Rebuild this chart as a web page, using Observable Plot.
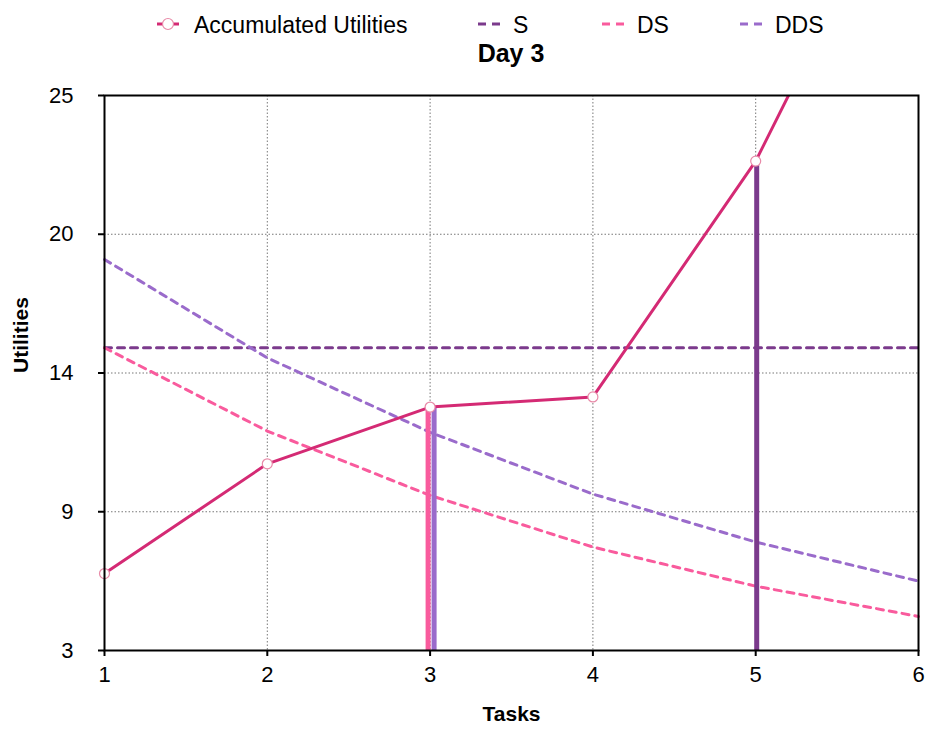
<!DOCTYPE html>
<html><head><meta charset="utf-8">
<script src="https://cdn.jsdelivr.net/npm/d3@7"></script>
<script src="https://cdn.jsdelivr.net/npm/@observablehq/plot@0.6"></script>
<style>
body{margin:0;background:#fff;font-family:"Liberation Sans",Arial,Helvetica,sans-serif;color:#000}
#wrap{position:relative;width:930px;height:733px}
.leg{position:absolute;top:12px;font-size:23px;line-height:26px;white-space:nowrap}
.sym{position:absolute;top:12px}
#title{position:absolute;top:38px;left:104px;width:814px;text-align:center;font-weight:bold;font-size:25px;line-height:30px}
</style></head>
<body><div id="wrap"></div>
<script>
const tasks = [1, 2, 3, 4, 5, 6];
const accumulated = [6.05, 10.4, 12.65, 13.05, 22.4, 35.3];
const sValues = [15, 15, 15, 15, 15, 15];
const dsValues = [15.0, 11.7, 9.15, 7.1, 5.55, 4.35];
const ddsValues = [18.5, 14.6, 11.65, 9.2, 7.3, 5.75];
const stopTasks = [3, 3, 5];
const stopSeries = ["DS", "DDS", "S"];
const stopValues = [12.65, 12.65, 22.4];
const xTicks = [1, 2, 3, 4, 5, 6];
const yTicks = [3, 8.5, 14, 19.5, 25];
const yTickLabels = ["3", "9", "14", "20", "25"];
const seriesNames = ["Accumulated Utilities", "S", "DS", "DDS"];
const colors = {"Accumulated Utilities": "#d42a74", S: "#7b3a8c", DS: "#f95b9d", DDS: "#9a6bcb"};

const rows = (vals) => tasks.map((t, i) => ({t, v: vals[i]}));
const stops = stopTasks.map((t, i) => ({t, s: stopSeries[i], v: stopValues[i]}));

const dash = {strokeWidth: 3, strokeDasharray: "7,6"};
const chart = Plot.plot({
  width: 930, height: 733,
  marginLeft: 104, marginRight: 12, marginTop: 95, marginBottom: 83,
  style: {fontFamily: "Liberation Sans, Arial, sans-serif", fontSize: "22px", color: "#000", background: "transparent"},
  x: {domain: [1, 6], label: null},
  y: {domain: [3, 25], label: null},
  marks: [
    Plot.ruleX(xTicks.slice(1, -1), {stroke: "#777", strokeWidth: 1, strokeDasharray: "1.5,2"}),
    Plot.ruleY(yTicks.slice(1, -1), {stroke: "#777", strokeWidth: 1, strokeDasharray: "1.5,2"}),
    Plot.line(rows(sValues), {x: "t", y: "v", stroke: colors.S, ...dash}),
    Plot.line(rows(dsValues), {x: "t", y: "v", stroke: colors.DS, ...dash}),
    Plot.line(rows(ddsValues), {x: "t", y: "v", stroke: colors.DDS, ...dash}),
    Plot.ruleX(stops.filter(d => d.s === "DS"), {x: "t", y1: 3, y2: "v", stroke: colors.DS, strokeWidth: 5, dx: -2}),
    Plot.ruleX(stops.filter(d => d.s === "DDS"), {x: "t", y1: 3, y2: "v", stroke: colors.DDS, strokeWidth: 5, dx: 4}),
    Plot.ruleX(stops.filter(d => d.s === "S"), {x: "t", y1: 3, y2: "v", stroke: colors.S, strokeWidth: 5, dx: 1}),
    Plot.line(rows(accumulated), {x: "t", y: "v", stroke: colors["Accumulated Utilities"], strokeWidth: 3, clip: true}),
    Plot.dot(rows(accumulated).filter(d => d.v <= 25), {x: "t", y: "v", r: 5, fill: "white", stroke: "#e88aa8", strokeWidth: 1.2}),
    Plot.frame({stroke: "#000", strokeWidth: 2}),
    Plot.axisX({ticks: xTicks, tickSize: 6, strokeWidth: 2, tickFormat: () => ""}),
    Plot.axisY({ticks: yTicks, tickSize: 6, strokeWidth: 2, tickFormat: () => ""}),
    Plot.text(xTicks, {x: d => d, frameAnchor: "bottom", dy: 31, text: d => String(d), fontSize: 22, fill: "#000"}),
    Plot.text(yTicks, {y: d => d, frameAnchor: "left", dx: -31, textAnchor: "end", text: (d, i) => yTickLabels[i], fontSize: 22, fill: "#000"}),
    Plot.text(["Tasks"], {frameAnchor: "bottom", dy: 70, fontWeight: "bold", fontSize: 21, text: d => d}),
    Plot.text(["Utilities"], {frameAnchor: "left", dx: -83, rotate: -90, fontWeight: "bold", fontSize: 21, text: d => d})
  ]
});
const wrap = document.getElementById("wrap");
wrap.appendChild(chart);
chart.style.position = "absolute"; chart.style.left = "0"; chart.style.top = "0";

// Legend (HTML overlay above the plot area)
const legendX = {"Accumulated Utilities": [156, 194], S: [477, 513], DS: [601, 637], DDS: [739, 775]};
for (const name of seriesNames) {
  const [sx, tx] = legendX[name];
  const svgNS = "http://www.w3.org/2000/svg";
  const s = document.createElementNS(svgNS, "svg");
  s.setAttribute("width", 24); s.setAttribute("height", 26);
  s.setAttribute("class", "sym"); s.style.left = sx + "px";
  const l = document.createElementNS(svgNS, "line");
  l.setAttribute("x1", 1); l.setAttribute("x2", 23); l.setAttribute("y1", 12); l.setAttribute("y2", 12);
  l.setAttribute("stroke", colors[name]); l.setAttribute("stroke-width", 3);
  if (name !== "Accumulated Utilities") l.setAttribute("stroke-dasharray", "8,6");
  s.appendChild(l);
  if (name === "Accumulated Utilities") {
    const c = document.createElementNS(svgNS, "circle");
    c.setAttribute("cx", 12); c.setAttribute("cy", 12); c.setAttribute("r", 5.5);
    c.setAttribute("fill", "white"); c.setAttribute("stroke", "#e88aa8"); c.setAttribute("stroke-width", 1.2);
    s.appendChild(c);
  }
  wrap.appendChild(s);
  const t = document.createElement("div");
  t.className = "leg"; t.style.left = tx + "px"; t.textContent = name;
  wrap.appendChild(t);
}
const title = document.createElement("div");
title.id = "title"; title.textContent = "Day 3";
wrap.appendChild(title);
</script>
</body></html>
